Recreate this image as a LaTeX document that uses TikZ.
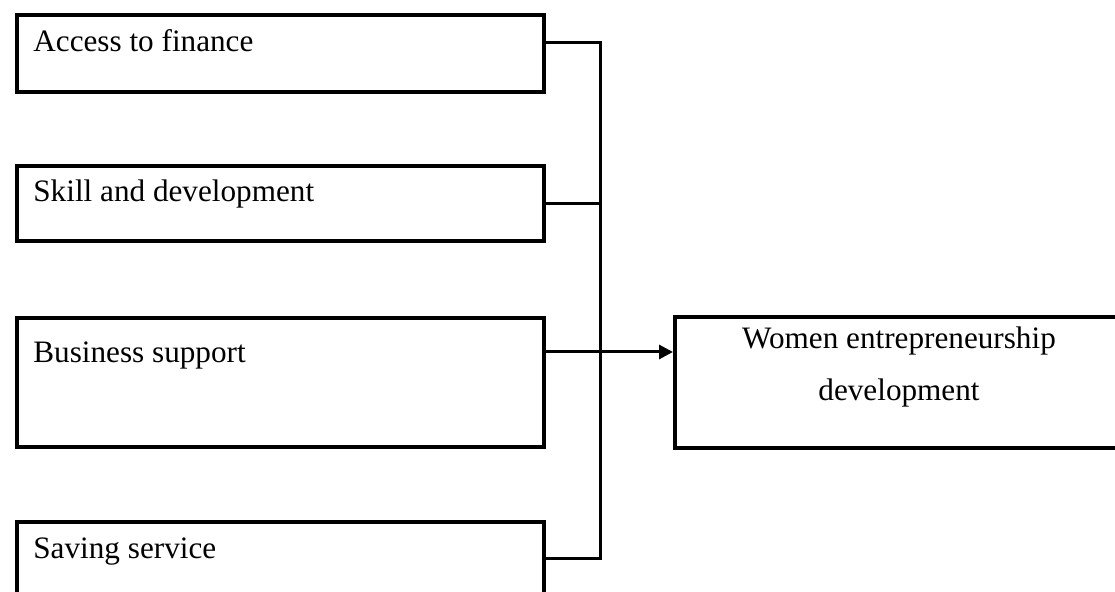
\documentclass[tikz,border=0pt]{standalone}
\usepackage{fontspec}
\setmainfont{Liberation Serif}
\usepackage{tikz}
\usetikzlibrary{arrows.meta, positioning, calc}

\tikzset{
  factorbox/.style={draw=black, line width=2pt, minimum width=263.5pt, inner sep=0pt, anchor=north west},
  factortext/.style={font=\fontsize{15.6}{26}\selectfont, inner sep=0pt, anchor=base west},
  link/.style={draw=black, line width=1.5pt},
}

\begin{document}
\begin{tikzpicture}[x=0.5pt, y=-0.5pt]
      \useasboundingbox (0,0) rectangle (1115,592);
      % independent factors
      \node[factorbox, minimum height=38.5pt] (finance) at (15,13) {};
      \node[factorbox, minimum height=37.5pt] (skill) at (15,164) {};
      \node[factorbox, minimum height=64.5pt] (support) at (15,316) {};
      \node[factorbox, minimum height=40pt] (saving) at (15,520) {};
      \node[factortext] (financetxt) at ([xshift=9pt,yshift=-19.5pt]finance.north west) {Access to finance};
      \node[factortext] (skilltxt) at ([xshift=9pt,yshift=-19pt]skill.north west) {Skill and development};
      \node[factortext] (supporttxt) at ([xshift=9pt,yshift=-23.5pt]support.north west) {Business support};
      \node[factortext] (savingtxt) at ([xshift=9pt,yshift=-19.5pt]saving.north west) {Saving service};
      % dependent variable
      \node[draw=black, line width=2pt, minimum width=224pt, minimum height=65.5pt, inner sep=0pt, anchor=north west] (outcome) at (673,315) {};
      \node[font=\fontsize{15.6}{26}\selectfont, align=center, inner sep=0pt, anchor=north] (outcometxt) at ([yshift=-5.5pt]outcome.north) {Women entrepreneurship\\development};
      % connectors
      \coordinate (bustop) at (600,43);
      \coordinate (busbot) at (600,559);
      \draw[link] ([yshift=-15pt]finance.north east) -- (bustop) -- (busbot) -- ([yshift=-19.5pt]saving.north east);
      \draw[link] (skill.east) -- (skill.east -| bustop);
      \draw[link, -{Triangle[length=7pt, width=7pt]}] ([yshift=-18pt]support.north east) -- ([yshift=-18pt]support.north east -| outcome.west);
    \end{tikzpicture}
\end{document}
